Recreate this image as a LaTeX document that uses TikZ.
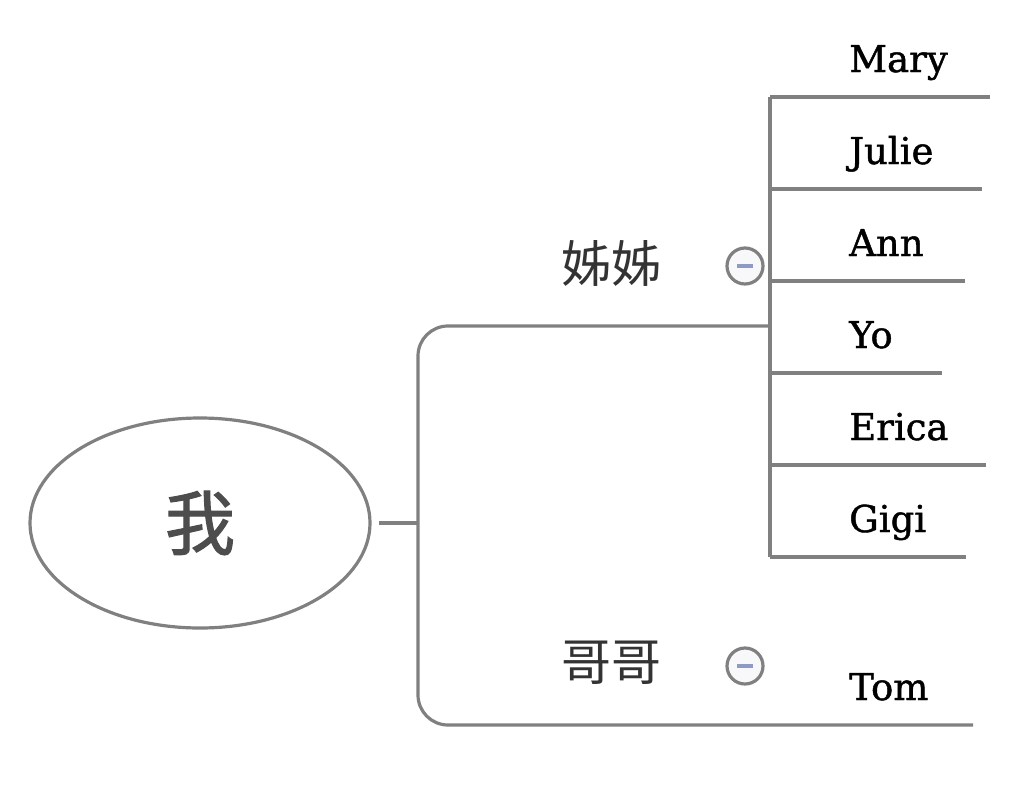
\documentclass[tikz,border=0pt]{standalone}
\usepackage{fontspec}
\setmainfont{DejaVu Serif}
\newfontfamily\leaffont{DejaVu Serif}[FakeBold=1.2]
\newfontfamily\cjk{Noto Sans CJK SC}
\newfontfamily\cjkmed{Noto Sans CJK SC}[FakeBold=1.6]
\usetikzlibrary{shapes.geometric}
\definecolor{linegray}{HTML}{808080}
\definecolor{cjkgray}{HTML}{333333}
\definecolor{megray}{HTML}{4D4D4D}
\definecolor{minusblue}{HTML}{8E9AC4}
\definecolor{iconfill}{HTML}{F8F8FA}
\tikzset{
  conn/.style={draw=linegray, line width=3.2pt},
  rootnode/.style={ellipse, draw=linegray, line width=3.2pt, minimum width=340pt, minimum height=210pt, inner sep=0pt, font=\cjkmed\fontsize{70}{70}\selectfont, text=megray},
  branchlbl/.style={inner sep=0pt, font=\cjk\fontsize{50}{50}\selectfont, text=cjkgray},
  leaflbl/.style={inner sep=0pt, anchor=base west, font=\leaffont\fontsize{37}{37}\selectfont, text=black},
  collapse/.style={circle, draw=linegray, line width=3.2pt, fill=iconfill, minimum size=36pt, inner sep=0pt},
}
\begin{document}
\begin{tikzpicture}[x=1pt, y=-1pt]
\useasboundingbox (0,0) rectangle (1022,798);
% root
\node[rootnode] (me) at (200,523) {我};
\coordinate (j) at (418,523);
\draw[conn] ([xshift=7pt]me.east) -- (j);
% branch labels
\node[branchlbl] (sis) at (611,263) {姊姊};
\node[branchlbl] (bro) at (611,663) {哥哥};
% collapse icons
\node[collapse] (sisc) at (745,266) {};
\node[collapse] (broc) at (745,666) {};
\draw[minusblue, line width=4pt] ([xshift=-8pt]sisc.center) -- ([xshift=8pt]sisc.center);
\draw[minusblue, line width=4pt] ([xshift=-8pt]broc.center) -- ([xshift=8pt]broc.center);
% main branch connector
\coordinate (sisend) at (770,326);
\coordinate (tl) at (418,326);
\coordinate (bl) at (418,725);
\coordinate (broend) at (973,725);
\draw[conn, rounded corners=30pt] (sisend) -- (tl) -- (bl) -- (broend);
% sister bracket
\coordinate (vtop) at (770,97);
\coordinate (vbot) at (770,557);
\draw[conn] (vtop) -- (vbot);
\coordinate (e1) at (990,97);
\coordinate (e2) at (982,189);
\coordinate (e3) at (965,281);
\coordinate (e4) at (942,373);
\coordinate (e5) at (986,465);
\coordinate (e6) at (966,557);
\coordinate (s2) at (770,189);
\coordinate (s3) at (770,281);
\coordinate (s4) at (770,373);
\coordinate (s5) at (770,465);
\draw[conn] (vtop) -- (e1);
\draw[conn] (s2) -- (e2);
\draw[conn] (s3) -- (e3);
\draw[conn] (s4) -- (e4);
\draw[conn] (s5) -- (e5);
\draw[conn] (vbot) -- (e6);
% leaves
\node[leaflbl] (mary) at (849,72) {Mary};
\node[leaflbl] (julie) at (849,164) {Julie};
\node[leaflbl] (ann) at (849,256) {Ann};
\node[leaflbl] (yo) at (849,348) {Yo};
\node[leaflbl] (erica) at (849,440) {Erica};
\node[leaflbl] (gigi) at (849,532) {Gigi};
\node[leaflbl] (tom) at (849,700) {Tom};
\end{tikzpicture}
\end{document}
